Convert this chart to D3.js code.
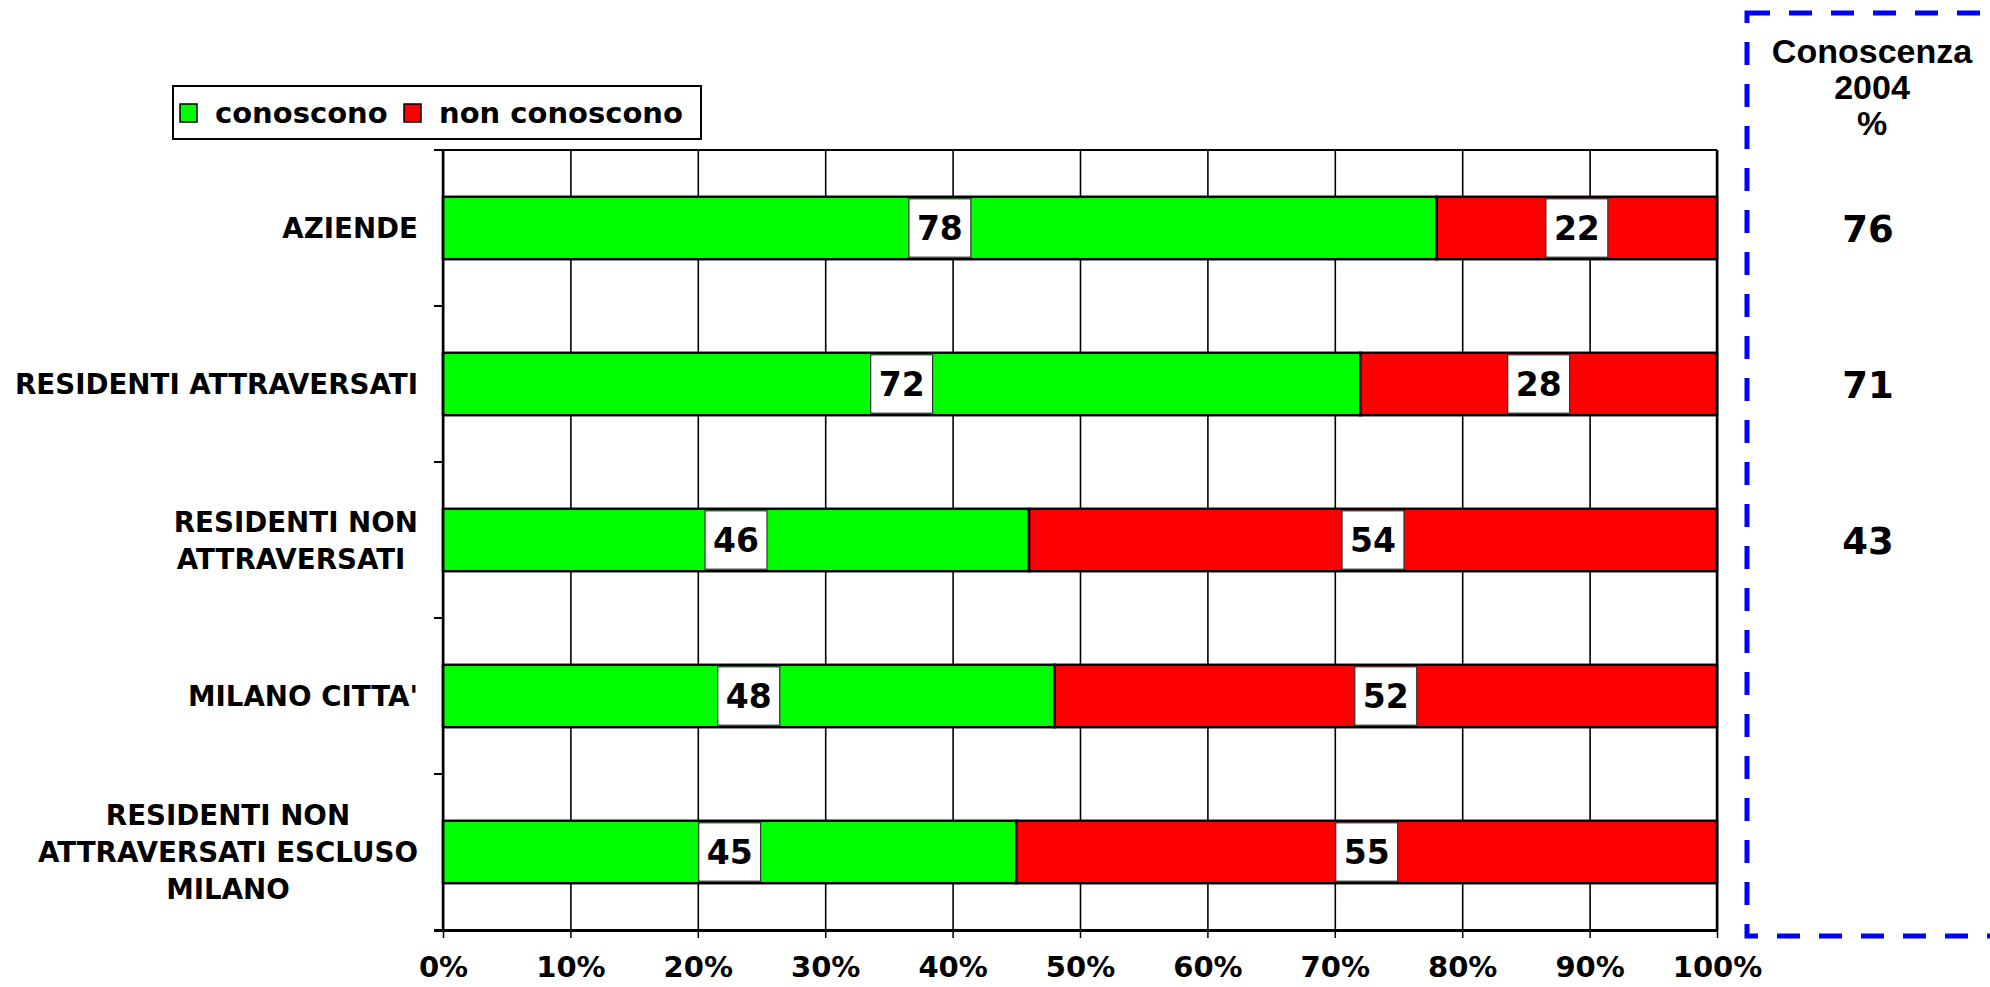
<!DOCTYPE html>
<html>
<head>
<meta charset="utf-8">
<script src="https://cdn.jsdelivr.net/npm/d3@7"></script>
<style>
  body { margin: 0; background: #fff; }
  svg { display: block; }
  .lbl { font-family: "DejaVu Sans", Verdana, sans-serif; font-weight: bold; fill: #000; }
  .arial { font-family: "Liberation Sans", Arial, sans-serif; font-weight: bold; fill: #000; }
</style>
</head>
<body>
<div id="vis"></div>
<script>
// data
const categories = [
  "AZIENDE",
  "RESIDENTI ATTRAVERSATI",
  "RESIDENTI NON\nATTRAVERSATI ",
  "MILANO CITTA'",
  "RESIDENTI NON\nATTRAVERSATI ESCLUSO\nMILANO"
];
const conoscono = [78, 72, 46, 48, 45];
const nonConoscono = [22, 28, 54, 52, 55];
const conoscenza2004 = [76, 71, 43, null, null];
const seriesNames = ["conoscono", "non conoscono"];
const seriesColors = ["#00ff00", "#ff0000"];
const xTicks = [0, 10, 20, 30, 40, 50, 60, 70, 80, 90, 100];
const sideTitle = ["Conoscenza", "2004", "%"];

const W = 1990, H = 987;
const pl = 443, pr = 1717, pt = 150, pb = 930;

const svg = d3.select("#vis").append("svg").attr("width", W).attr("height", H);

const x = d3.scaleLinear().domain([0, 100]).range([pl, pr]);
const y = d3.scaleBand().domain(d3.range(categories.length)).range([pt, pb])
  .paddingInner(0.6).paddingOuter(0.3);
const step = y.step();

// vertical gridlines
svg.append("g")
  .attr("transform", `translate(0,${pb})`)
  .call(d3.axisBottom(x).tickValues(xTicks).tickSize(-(pb - pt)).tickFormat(""))
  .call(g => g.select(".domain").remove())
  .call(g => g.selectAll("line").attr("stroke", "#000").attr("stroke-width", 1.6));

// bars
const rows = categories.map((c, i) => ({ i, conoscono: conoscono[i], non: nonConoscono[i] }));
const stacked = d3.stack().keys(["conoscono", "non"])(rows);

const layer = svg.append("g").selectAll("g").data(stacked).join("g")
  .attr("fill", (d, k) => seriesColors[k]);
layer.selectAll("rect").data(d => d).join("rect")
  .attr("x", d => x(d[0]))
  .attr("y", d => y(d.data.i))
  .attr("width", d => x(d[1]) - x(d[0]))
  .attr("height", y.bandwidth())
  .attr("stroke", "#000").attr("stroke-width", 2.5);

// value labels in white boxes
const labels = svg.append("g").selectAll("g").data(stacked.flatMap(s => s)).join("g")
  .attr("transform", d => `translate(${x((d[0] + d[1]) / 2)},${y(d.data.i) + y.bandwidth() / 2})`);
labels.append("text").attr("class", "lbl")
  .attr("text-anchor", "middle").attr("dy", "0.37em").attr("font-size", 33)
  .text(d => d[1] - d[0]);
labels.insert("rect", "text")
  .each(function () {
    const w = this.parentNode.querySelector("text").getComputedTextLength() + 16;
    const h = y.bandwidth() - 4;
    d3.select(this).attr("x", -w / 2).attr("y", -h / 2).attr("width", w).attr("height", h);
  })
  .attr("fill", "#fff").attr("stroke", "#333").attr("stroke-width", 1.2);

// left axis line and ticks at band boundaries
const bounds = d3.range(categories.length + 1).map(k => pt + k * step);
svg.append("g").selectAll("line").data(bounds).join("line")
  .attr("x1", pl - 9).attr("x2", pl).attr("y1", d => d).attr("y2", d => d)
  .attr("stroke", "#000").attr("stroke-width", 2);
svg.append("line").attr("x1", pl - 9).attr("x2", pr).attr("y1", pt).attr("y2", pt)
  .attr("stroke", "#000").attr("stroke-width", 2);
svg.append("line").attr("x1", pl).attr("x2", pl).attr("y1", pt).attr("y2", pb)
  .attr("stroke", "#000").attr("stroke-width", 2.5);
svg.append("line").attr("x1", pr).attr("x2", pr).attr("y1", pt).attr("y2", pb)
  .attr("stroke", "#000").attr("stroke-width", 2.5);

// bottom axis
const xAxis = svg.append("g")
  .attr("transform", `translate(0,${pb})`)
  .call(d3.axisBottom(x).tickValues(xTicks).tickSize(8).tickPadding(18).tickFormat(d => d + "%"));
xAxis.select(".domain").attr("stroke", "#000").attr("stroke-width", 3)
  .attr("d", `M${pl - 9},0.5H${pr}`);
xAxis.selectAll("line").attr("stroke", "#000").attr("stroke-width", 1.5);
xAxis.selectAll("text").attr("class", "lbl").attr("font-size", 29).attr("fill", "#000");

// category labels
const catG = svg.append("g").selectAll("text").data(categories).join("text")
  .attr("class", "lbl").attr("font-size", 27.7).attr("text-anchor", "middle")
  .style("white-space", "pre");
catG.each(function (c, i) {
  const lines = c.split("\n");
  const t = d3.select(this);
  const cy = y(i) + y.bandwidth() / 2;
  const lh = 37;
  lines.forEach((ln, j) => {
    t.append("tspan").attr("y", cy + 10 + (j - (lines.length - 1) / 2) * lh).text(ln);
  });
  let maxW = 0;
  t.selectAll("tspan").each(function () { maxW = Math.max(maxW, this.getComputedTextLength()); });
  t.selectAll("tspan").attr("x", pl - 25 - maxW / 2);
});

// legend
const leg = svg.append("g");
leg.append("rect").attr("x", 173).attr("y", 86).attr("width", 528).attr("height", 53)
  .attr("fill", "#fff").attr("stroke", "#000").attr("stroke-width", 2);
const legX = [180, 404];
seriesNames.forEach((n, k) => {
  leg.append("rect").attr("x", legX[k]).attr("y", 104).attr("width", 17).attr("height", 18)
    .attr("fill", seriesColors[k]).attr("stroke", "#000").attr("stroke-width", 1.5);
  leg.append("text").attr("class", "lbl").attr("font-size", 29)
    .attr("x", legX[k] + 35).attr("y", 123).text(n);
});

// side panel
svg.append("rect").attr("x", 1747).attr("y", 13).attr("width", 300).attr("height", 923)
  .attr("fill", "none").attr("stroke", "#0000ff").attr("stroke-width", 5)
  .attr("stroke-dasharray", "23,19");
svg.append("g").selectAll("text").data(sideTitle).join("text")
  .attr("class", "arial").attr("font-size", 34).attr("text-anchor", "middle")
  .attr("x", 1872).attr("y", (d, i) => 63 + i * 36).text(d => d);
svg.append("g").selectAll("text").data(conoscenza2004.map((v, i) => ({ v, i })).filter(d => d.v != null))
  .join("text").attr("class", "lbl").attr("font-size", 37).attr("text-anchor", "middle")
  .attr("x", 1868).attr("y", d => y(d.i) + y.bandwidth() / 2 + 14).text(d => d.v);
</script>
</body>
</html>
